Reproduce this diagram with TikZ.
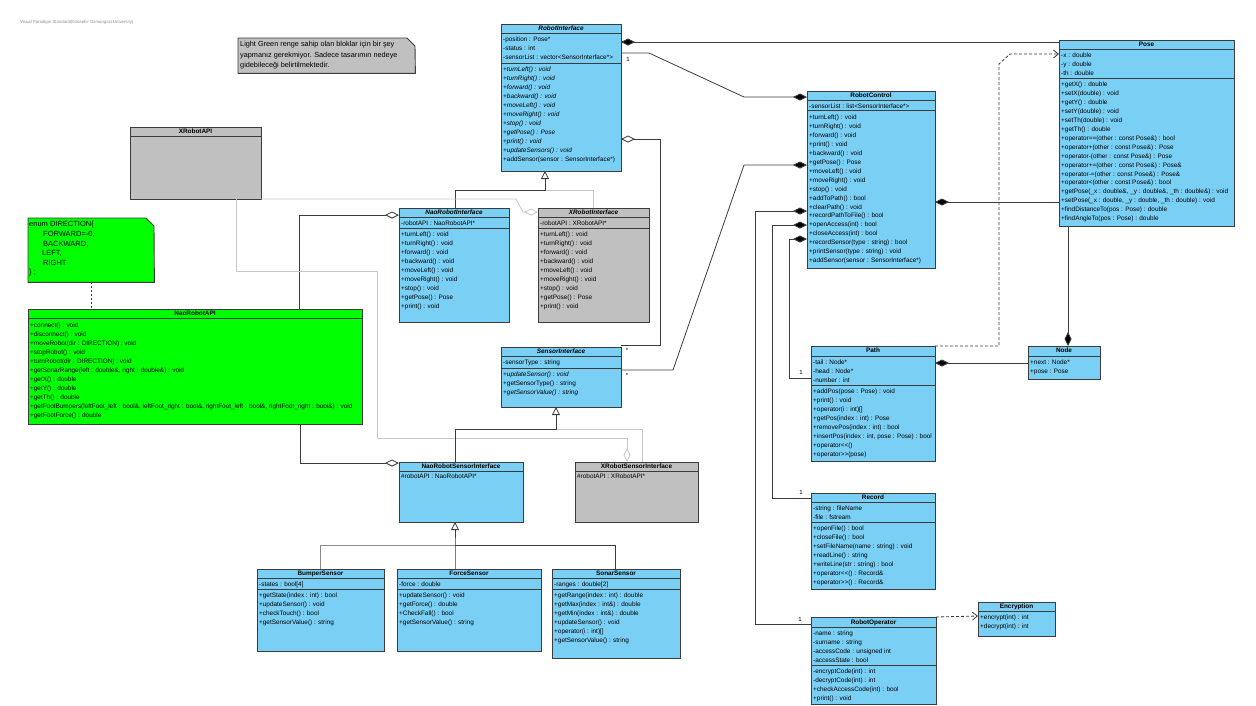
\documentclass[tikz,border=0pt]{standalone}
\usepackage{fontspec}
\setmainfont{Liberation Sans}
\usetikzlibrary{arrows.meta}
\definecolor{cblue}{RGB}{122,207,245}
\definecolor{cgreen}{RGB}{0,255,0}
\definecolor{cgray}{RGB}{192,192,192}
\definecolor{cline}{RGB}{60,60,60}
\definecolor{clight}{RGB}{200,200,200}
\newcommand\cf{\fontsize{6.4}{8.95}\selectfont}
\newcommand\clsbox[6]{\node[box, fill=#6, minimum width={(#4-#2)*1pt}, minimum height={(#5-#3)*1pt}, anchor=north west] (#1) at (#2,#3) {};}
\newcommand\septo[2]{\draw[sepl] (#1.west |- 0,#2) -- (#1.east |- 0,#2);}
\newcommand\rowsat[4]{\node[rows] (#1) at (#2,#3) {\rule{0pt}{6.3pt}#4};}
\tikzset{
 box/.style={draw=cline, line width=0.9pt, inner sep=0pt, outer sep=0pt},
 ttl/.style={font=\cf\bfseries, inner sep=0pt, anchor=base},
 ttli/.style={font=\cf\bfseries\itshape, inner sep=0pt, anchor=base},
 rows/.style={font=\cf, inner sep=0pt, anchor=north west, align=left},
 sepl/.style={draw=cline, line width=0.9pt},
 conn/.style={draw=cline, line width=0.8pt},
 lconn/.style={draw=clight, line width=0.8pt},
 compS/.style={{Diamond[length=14pt,width=7pt,fill=black]}-},
 compE/.style={-{Diamond[length=14pt,width=7pt,fill=black]}},
 aggS/.style={{Diamond[length=14pt,width=7pt,fill=white]}-},
 aggE/.style={-{Diamond[length=14pt,width=7pt,fill=white]}},
 gen/.style={-{Triangle[length=8pt,width=8pt,fill=white]}},
 dep/.style={dash pattern=on 3pt off 2pt, -{Straight Barb[length=5pt,width=8pt]}},
 mult/.style={font=\fontsize{6}{7}\selectfont, inner sep=0pt},
 notebox/.style={draw=cline, line width=0.9pt},
}
\begin{document}
\begin{tikzpicture}[x=1pt,y=-1pt]
\useasboundingbox (0,0) rectangle (1256,705);
\fill[white] (0,0) rectangle (1256,705);

% watermark
\node[anchor=base west, font=\fontsize{4.3}{5}\selectfont, text=black!45, inner sep=0] (wm) at (20,23.5) {Visual Paradigm Standard(Eskisehir Osmangazi University)};

% note 1
\node[inner sep=0, minimum width=177pt, minimum height=35pt, anchor=north west] (note1) at (238,38) {};
\draw[notebox, fill=cgray] (note1.north west) -- (407,38) -- (415,46) -- (note1.south east) -- (note1.south west) -- cycle;
\node[anchor=north west, inner sep=0, align=left, font=\fontsize{7.3}{10.5}\selectfont] (note1-t) at (240,39.2) {\rule{0pt}{7.4pt}Light Green renge sahip olan bloklar için bir şey\\yapmanız gerekmiyor. Sadece tasarımın nedeye\\gidebileceği belirtilmektedir.};

% enum note
\node[inner sep=0, minimum width=126pt, minimum height=64pt, anchor=north west] (enote) at (28,218) {};
\draw[notebox, fill=cgreen] (enote.north west) -- (146,218) -- (154,226) -- (enote.south east) -- (enote.south west) -- cycle;
\node[anchor=north west, inner sep=0, align=left, font=\fontsize{7.5}{9.6}\selectfont] (enote-t) at (29,219.5) {\rule{0pt}{7.2pt}enum DIRECTION\{\\\hspace*{14pt}FORWARD=-0,\\\hspace*{14pt}BACKWARD,\\\hspace*{13pt}LEFT,\\\hspace*{14pt}RIGHT\\\} ;};

% RobotInterface
\clsbox{ri}{501}{24}{621}{171}{cblue}
\node[ttli] (ri-t) at (561,30.8) {RobotInterface};
\septo{ri}{33}\septo{ri}{63}
\rowsat{ri-a}{503}{35}{-position : Pose*\\-status : int\\-sensorList : vector<SensorInterface*>}
\rowsat{ri-m}{503}{65}{\textit{+turnLeft() : void}\\\textit{+turnRight() : void}\\\textit{+forward() : void}\\\textit{+backward() : void}\\\textit{+moveLeft() : void}\\\textit{+moveRight() : void}\\\textit{+stop() : void}\\\textit{+getPose() : Pose}\\\textit{+print() : void}\\\textit{+updateSensors() : void}\\+addSensor(sensor : SensorInterface*)}

% Pose
\clsbox{pose}{1059}{40}{1234}{226}{cblue}
\node[ttl] (pose-t) at (1146.5,46.8) {Pose};
\septo{pose}{49}\septo{pose}{78}
\rowsat{pose-a}{1061}{51}{-x : double\\-y : double\\-th : double}
\rowsat{pose-m}{1061}{80}{+getX() : double\\+setX(double) : void\\+getY() : double\\+setY(double) : void\\+setTh(double) : void\\+getTh() : double\\+operator==(other : const Pose\&) : bool\\+operator+(other : const Pose\&) : Pose\\+operator-(other : const Pose\&) : Pose\\+operator+=(other : const Pose\&) : Pose\&\\+operator-=(other : const Pose\&) : Pose\&\\+operator<(other : const Pose\&) : bool\\+getPose(\_x : double\&, \_y : double\&, \_th : double\&) : void\\+setPose(\_x : double, \_y : double, \_th : double) : void\\+findDistanceTo(pos : Pose) : double\\+findAngleTo(pos : Pose) : double}

% RobotControl
\clsbox{rc}{807}{91}{935}{268}{cblue}
\node[ttl] (rc-t) at (871,97.8) {RobotControl};
\septo{rc}{100}\septo{rc}{110}
\rowsat{rc-a}{809}{102}{-sensorList : list<SensorInterface*>}
\rowsat{rc-m}{809}{113}{+turnLeft() : void\\+turnRight() : void\\+forward() : void\\+print() : void\\+backward() : void\\+getPose() : Pose\\+moveLeft() : void\\+moveRight() : void\\+stop() : void\\+addToPath() : bool\\+clearPath() : void\\+recordPathToFile() : bool\\+openAccess(int) : bool\\+closeAccess(int) : bool\\+recordSensor(type : string) : bool\\+printSensor(type : string) : void\\+addSensor(sensor : SensorInterface*)}

% XRobotAPI
\clsbox{xapi}{130}{127}{261}{199}{cgray}
\node[ttl] (xapi-t) at (195.5,133.8) {XRobotAPI};
\septo{xapi}{136}

% NaoRobotInterface
\clsbox{nri}{399}{208}{509}{322}{cblue}
\node[ttli] (nri-t) at (454,214.8) {NaoRobotInterface};
\septo{nri}{217}\septo{nri}{228}
\rowsat{nri-a}{401}{219}{-robotAPI : NaoRobotAPI*}
\rowsat{nri-m}{401}{230}{+turnLeft() : void\\+turnRight() : void\\+forward() : void\\+backward() : void\\+moveLeft() : void\\+moveRight() : void\\+stop() : void\\+getPose() : Pose\\+print() : void}

% XRobotInterface
\clsbox{xri}{538}{208}{649}{322}{cgray}
\node[ttli] (xri-t) at (593.5,214.8) {XRobotInterface};
\septo{xri}{217}\septo{xri}{228}
\rowsat{xri-a}{540}{219}{-robotAPI : XRobotAPI*}
\rowsat{xri-m}{540}{230}{+turnLeft() : void\\+turnRight() : void\\+forward() : void\\+backward() : void\\+moveLeft() : void\\+moveRight() : void\\+stop() : void\\+getPose() : Pose\\+print() : void}

% NaoRobotAPI
\clsbox{napi}{28}{309}{362}{424}{cgreen}
\node[ttl] (napi-t) at (195,315.8) {NaoRobotAPI};
\septo{napi}{318}
\rowsat{napi-m}{30}{321}{+connect() : void\\+disconnect() : void\\+moveRobot(dir : DIRECTION) : void\\+stopRobot() : void\\+turnRobot(dir : DIRECTION) : void\\+getSonarRange(left : double\&, right : double\&) : void\\+getX() : double\\+getY() : double\\+getTh() : double\\+getFootBumpers(leftFoot\_left : bool\&, leftFoot\_right : bool\&, rightFoot\_left : bool\&, rightFoot\_right : bool\&) : void\\+getFootForce() : double}

% SensorInterface
\clsbox{si}{501}{347}{621}{407}{cblue}
\node[ttli] (si-t) at (561,353.8) {SensorInterface};
\septo{si}{356}\septo{si}{368}
\rowsat{si-a}{503}{358}{-sensorType : string}
\rowsat{si-m}{503}{370}{\textit{+updateSensor() : void}\\+getSensorType() : string\\\textit{+getSensorValue() : string}}

% NaoRobotSensorInterface
\clsbox{nsi}{399}{462}{523}{522}{cblue}
\node[ttl] (nsi-t) at (461,468.8) {NaoRobotSensorInterface};
\septo{nsi}{471}
\rowsat{nsi-a}{401}{472}{\#robotAPI : NaoRobotAPI*}

% XRobotSensorInterface
\clsbox{xsi}{575}{462}{698}{522}{cgray}
\node[ttl] (xsi-t) at (636.5,468.8) {XRobotSensorInterface};
\septo{xsi}{471}
\rowsat{xsi-a}{577}{472}{\#robotAPI : XRobotAPI*}

% BumperSensor
\clsbox{bs}{257}{569}{384}{651}{cblue}
\node[ttl] (bs-t) at (320.5,575.8) {BumperSensor};
\septo{bs}{578}\septo{bs}{589}
\rowsat{bs-a}{259}{580}{-states : bool[4]}
\rowsat{bs-m}{259}{591}{+getState(index : int) : bool\\+updateSensor() : void\\+checkTouch() : bool\\+getSensorValue() : string}

% ForceSensor
\clsbox{fs}{397}{569}{541}{651}{cblue}
\node[ttl] (fs-t) at (469,575.8) {ForceSensor};
\septo{fs}{578}\septo{fs}{589}
\rowsat{fs-a}{399}{580}{-force : double}
\rowsat{fs-m}{399}{591}{+updateSensor() : void\\+getForce() : double\\+CheckFall() : bool\\+getSensorValue() : string}

% SonarSensor
\clsbox{ss}{552}{569}{680}{658}{cblue}
\node[ttl] (ss-t) at (616,575.8) {SonarSensor};
\septo{ss}{578}\septo{ss}{589}
\rowsat{ss-a}{554}{580}{-ranges : double[2]}
\rowsat{ss-m}{554}{591}{+getRange(index : int) : double\\+getMax(index : int\&) : double\\+getMin(index : int\&) : double\\+updateSensor() : void\\+operator(i : int)[]\\+getSensorValue() : string}

% Path
\clsbox{path}{811}{346}{935}{461}{cblue}
\node[ttl] (path-t) at (873,352.8) {Path};
\septo{path}{356}\septo{path}{385}
\rowsat{path-a}{813}{358}{-tail : Node*\\-head : Node*\\-number : int}
\rowsat{path-m}{813}{387}{+addPos(pose : Pose) : void\\+print() : void\\+operator(i : int)[]\\+getPos(index : int) : Pose\\+removePos(index : int) : bool\\+insertPos(index : int, pose : Pose) : bool\\+operator<\kern0pt<()\\+operator>\kern0pt>(pose)}

% Node
\clsbox{nodec}{1028}{346}{1100}{379}{cblue}
\node[ttl] (nodec-t) at (1064,352.8) {Node};
\septo{nodec}{356}
\rowsat{nodec-a}{1030}{358}{+next : Node*\\+pose : Pose}

% Record
\clsbox{rec}{811}{493}{935}{589}{cblue}
\node[ttl] (rec-t) at (873,499.8) {Record};
\septo{rec}{502}\septo{rec}{522}
\rowsat{rec-a}{813}{504}{-string : fileName\\-file : fstream}
\rowsat{rec-m}{813}{524}{+openFile() : bool\\+closeFile() : bool\\+setFileName(name : string) : void\\+readLine() : string\\+writeLine(str : string) : bool\\+operator<\kern0pt<() : Record\&\\+operator>\kern0pt>() : Record\&}

% RobotOperator
\clsbox{ro}{811}{617}{936}{704}{cblue}
\node[ttl] (ro-t) at (873.5,624.3) {RobotOperator};
\septo{ro}{627}\septo{ro}{665}
\rowsat{ro-a}{813}{629}{-name : string\\-surname : string\\-accessCode : unsigned int\\-accessState : bool}
\rowsat{ro-m}{813}{667}{-encryptCode(int) : int\\-decryptCode(int) : int\\+checkAccessCode(int) : bool\\+print() : void}

% Encryption
\clsbox{enc}{978}{602}{1055}{636}{cblue}
\node[ttl] (enc-t) at (1016.5,608.8) {Encryption};
\septo{enc}{611}
\rowsat{enc-m}{980}{613}{+encrypt(int) : int\\+decrypt(int) : int}

% ---------- connectors ----------
\draw[conn, compS] (ri.east |- 0,42) -- (pose.west |- 0,42);
\draw[conn, compE] (ri.east |- 0,53) -- (649,53) -- (744,97) -- (rc.west |- 0,97);
\node[mult] (m1) at (628,59) {1};
\draw[conn, aggS] (ri.east |- 0,139) -- (660,139) -- (660,345) -- (si.east |- 0,345);
\node[mult] (m2) at (627,350) {*};
\draw[conn, compS] (rc.west |- 0,165) -- (744,165) -- (673,370) -- (si.east |- 0,370);
\node[mult] (m3) at (627,375) {*};
\draw[conn, compS] (rc.west |- 0,211) -- (755,211) -- (755,624) -- (ro.west |- 0,624);
\node[mult] (m4) at (800,619) {1};
\draw[conn, compS] (rc.west |- 0,225) -- (772,225) -- (772,498) -- (rec.west |- 0,498);
\node[mult] (m5) at (801,492) {1};
\draw[conn, compS] (rc.west |- 0,239) -- (789,239) -- (789,378) -- (path.west |- 0,378);
\node[mult] (m6) at (801,372) {1};
\draw[conn, compS] (rc.east |- 0,202) -- (pose.west |- 0,202);
\draw[conn, compS] (path.east |- 0,363) -- (nodec.west |- 0,363);
\draw[conn, compS] (nodec.north -| 1068,0) -- (pose.south -| 1068,0);
\draw[conn, dep] (path.north east) -- (999,346) -- (999,64) -- (1010,54) -- (pose.west |- 0,54);
\draw[conn, dep] (ro.north east) -- (enc.west |- 0,616);

% generalizations to RobotInterface
\coordinate (g1) at (545,190);
\draw[lconn] (xri.north -| 593,0) -- (593,190) -- (g1);
\draw[conn, gen] (nri.north -| 455,0) -- (455,190) -- (g1) -- (ri.south -| 545,0);
% aggregations from APIs
\draw[conn, aggE] (napi.north -| 299,0) -- (299,215) -- (nri.west |- 0,215);
\draw[lconn, aggE] (xapi.south east) -- (516,199) -- (523,212) -- (xri.west |- 0,212);
\draw[lconn, aggE] (xapi.south -| 236,0) -- (236,271) -- (377,271) -- (377,438) -- (627,438) -- (xsi.north -| 627,0);
\draw[conn, aggE] (napi.south -| 300,0) -- (300,463) -- (nsi.west |- 0,463);
% generalizations to SensorInterface
\coordinate (g2) at (556,429);
\draw[lconn] (xsi.north -| 642,0) -- (642,429) -- (g2);
\draw[conn, gen] (nsi.north -| 455,0) -- (455,429) -- (g2) -- (si.south -| 556,0);
% sensors
\coordinate (g3) at (455,545);
\draw[conn, gen] (fs.north -| 455,0) -- (g3) -- (nsi.south -| 455,0);
\draw[conn] (ss.north -| 615,0) -- (615,545) -- (g3);
\draw[draw=black!45, line width=0.8pt] (bs.north -| 320,0) -- (320,545) -- (g3);
% enum note anchor
\draw[conn, dash pattern=on 2pt off 2pt] (enote.south -| 91,0) -- (napi.north -| 91,0);
\end{tikzpicture}
\end{document}
